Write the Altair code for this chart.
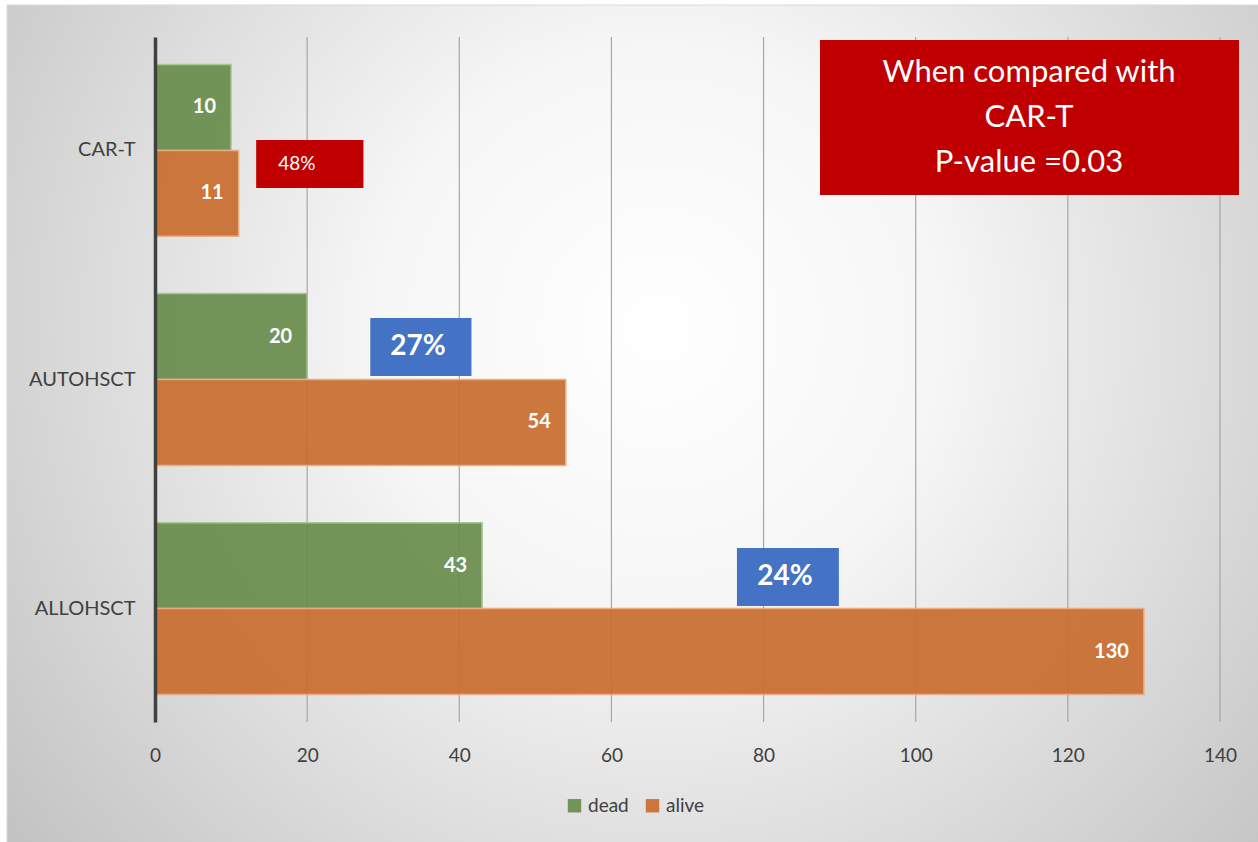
import altair as alt
import pandas as pd

# Patient outcomes per therapy group
therapies = ["CAR-T", "AUTOHSCT", "ALLOHSCT"]
dead = [10, 20, 43]
alive = [11, 54, 130]
statuses = ["dead", "alive"]
status_colors = ["#6A8E4E", "#C96E30"]
status_strokes = ["#A8C48E", "#EBAA7F"]
x_ticks = [0, 20, 40, 60, 80, 100, 120, 140]

# Mortality percentages shown in boxes next to each group
pct_labels = ["48%", "27%", "24%"]
pct_x0 = [13.3, 28.3, 76.5]
pct_x1 = [27.4, 41.6, 89.9]
pct_fill = ["#C00000", "#4472C4", "#4472C4"]
pct_weight = ["normal", "bold", "bold"]
pct_size = [19, 28, 28]
pct_top = [103, 281, 511]
pct_height = [48, 58, 58]
pct_dx = [-13, -3, -3]

note_lines = ["When compared with", "CAR-T", "P-value =0.03"]

FONT = "Lato"
W, H = 1065, 685

rows = []
for t, d, a in zip(therapies, dead, alive):
    rows.append({"therapy": t, "status": "dead", "n": d})
    rows.append({"therapy": t, "status": "alive", "n": a})
bars_df = pd.DataFrame(rows)

x_scale = alt.Scale(domain=[0, 140], nice=False)
y_enc = alt.Y("therapy:N", sort=therapies, title=None,
              scale=alt.Scale(paddingInner=0.25, paddingOuter=0.12),
              axis=alt.Axis(labelFontSize=20, labelColor="#404040", labelFont=FONT,
                            labelPadding=20, ticks=False, domainColor="#404040",
                            domainWidth=3.5, grid=False, zindex=2))
x_enc = alt.X("n:Q", scale=x_scale, title=None,
              axis=alt.Axis(values=x_ticks, labelFontSize=19, labelFlush=False,
                            labelColor="#404040", labelFont=FONT, labelPadding=24,
                            ticks=False, domain=False, grid=False, zindex=2))
yoff = alt.YOffset("status:N", sort=statuses, scale=alt.Scale(paddingInner=0.0))

background = alt.Chart(pd.DataFrame({"k": [0]})).mark_rect(
    clip=False,
    color=alt.Gradient(
        gradient="radial",
        stops=[alt.GradientStop(offset=0, color="#FFFFFF"),
               alt.GradientStop(offset=0.3, color="#F6F6F6"),
               alt.GradientStop(offset=1, color="#B8B8B8")],
        x1=0.52, y1=0.42, r1=0, x2=0.52, y2=0.42, r2=0.75),
    stroke="#D9D9D9", strokeWidth=1,
).encode(x=alt.value(-148), x2=alt.value(W + 40), y=alt.value(-32), y2=alt.value(H + 130))

grid = alt.Chart(pd.DataFrame({"v": x_ticks[1:]})).mark_rule(
    color="#A6A6A6", strokeWidth=1.2
).encode(x=alt.X("v:Q", scale=x_scale), y=alt.value(0), y2=alt.value(H))

bars = alt.Chart(bars_df).mark_bar(opacity=0.93, strokeWidth=1.5).encode(
    x=x_enc, y=y_enc, yOffset=yoff,
    color=alt.Color("status:N", sort=statuses,
                    scale=alt.Scale(domain=statuses, range=status_colors),
                    legend=alt.Legend(title=None, orient="none", direction="horizontal",
                                      legendX=410, legendY=759, symbolType="square",
                                      symbolSize=180, labelFontSize=19, labelFont=FONT,
                                      labelColor="#404040", columnPadding=14,
                                      symbolStrokeWidth=0, zindex=2)),
    stroke=alt.Stroke("status:N", sort=statuses,
                      scale=alt.Scale(domain=statuses, range=status_strokes), legend=None),
)

labels = alt.Chart(bars_df).mark_text(
    align="right", baseline="middle", dx=-15, color="white",
    fontWeight="bold", fontSize=20, font=FONT,
).encode(x=alt.X("n:Q", scale=x_scale), y=alt.Y("therapy:N", sort=therapies),
         yOffset=yoff, text="n:Q")

pct_layers = []
for i, lab in enumerate(pct_labels):
    row = pd.DataFrame({"x0": [pct_x0[i]], "x1": [pct_x1[i]],
                        "xm": [(pct_x0[i] + pct_x1[i]) / 2], "label": [lab]})
    top, hgt = pct_top[i], pct_height[i]
    pct_layers.append(
        alt.Chart(row).mark_rect(color=pct_fill[i]).encode(
            x=alt.X("x0:Q", scale=x_scale), x2="x1:Q",
            y=alt.value(top), y2=alt.value(top + hgt))
    )
    pct_layers.append(
        alt.Chart(row).mark_text(
            color="white", font=FONT, fontSize=pct_size[i], fontWeight=pct_weight[i],
            baseline="middle", align="center", dx=pct_dx[i],
        ).encode(x=alt.X("xm:Q", scale=x_scale), y=alt.value(top + hgt / 2),
                 text="label:N")
    )

note_box = alt.Chart(pd.DataFrame({"k": [0]})).mark_rect(color="#C00000", clip=False).encode(
    x=alt.value(665), x2=alt.value(1084), y=alt.value(3), y2=alt.value(158))
note_layers = [note_box]
for j, line in enumerate(note_lines):
    note_layers.append(
        alt.Chart(pd.DataFrame({"line": [line]})).mark_text(
            color="white", font=FONT, fontSize=31, align="center", baseline="middle",
        ).encode(x=alt.value(874), y=alt.value(36 + 45 * j), text="line:N")
    )

chart = alt.layer(
    background, grid, bars, labels, *pct_layers, *note_layers
).properties(
    width=W, height=H,
    autosize=alt.AutoSizeParams(type="none"),
    padding={"left": 155, "top": 37, "right": 38, "bottom": 120},
    background="white",
).configure_view(stroke=None)

chart.save("out.html", embed_options={"renderer": "svg", "actions": False})
